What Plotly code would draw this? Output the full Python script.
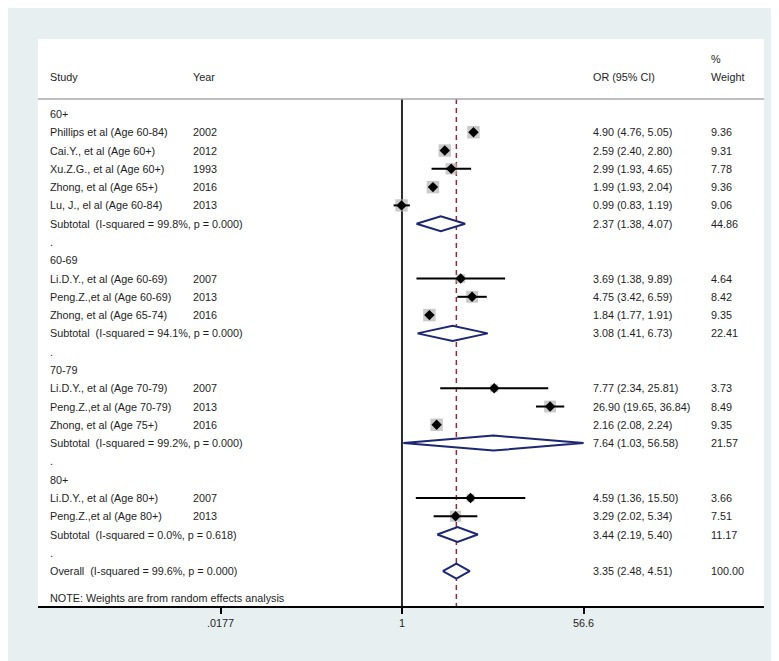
import plotly.graph_objects as go

# ---- data ----
groups = ["60+", "60-69", "70-79", "80+"]

studies = [
    ["Phillips et al (Age 60-84)", "Cai.Y., et al (Age 60+)", "Xu.Z.G., et al (Age 60+)",
     "Zhong, et al (Age 65+)", "Lu, J., el al (Age 60-84)"],
    ["Li.D.Y., et al (Age 60-69)", "Peng.Z.,et al (Age 60-69)", "Zhong, et al (Age 65-74)"],
    ["Li.D.Y., et al (Age 70-79)", "Peng.Z.,et al (Age 70-79)", "Zhong, et al (Age 75+)"],
    ["Li.D.Y., et al (Age 80+)", "Peng.Z.,et al (Age 80+)"],
]
years = [
    [2002, 2012, 1993, 2016, 2013],
    [2007, 2013, 2016],
    [2007, 2013, 2016],
    [2007, 2013],
]
or_est = [
    [4.90, 2.59, 2.99, 1.99, 0.99],
    [3.69, 4.75, 1.84],
    [7.77, 26.90, 2.16],
    [4.59, 3.29],
]
or_low = [
    [4.76, 2.40, 1.93, 1.93, 0.83],
    [1.38, 3.42, 1.77],
    [2.34, 19.65, 2.08],
    [1.36, 2.02],
]
or_high = [
    [5.05, 2.80, 4.65, 2.04, 1.19],
    [9.89, 6.59, 1.91],
    [25.81, 36.84, 2.24],
    [15.50, 5.34],
]
weights = [
    [9.36, 9.31, 7.78, 9.36, 9.06],
    [4.64, 8.42, 9.35],
    [3.73, 8.49, 9.35],
    [3.66, 7.51],
]

sub_labels = [
    "Subtotal  (I-squared = 99.8%, p = 0.000)",
    "Subtotal  (I-squared = 94.1%, p = 0.000)",
    "Subtotal  (I-squared = 99.2%, p = 0.000)",
    "Subtotal  (I-squared = 0.0%, p = 0.618)",
]
sub_est = [2.37, 3.08, 7.64, 3.44]
sub_low = [1.38, 1.41, 1.03, 2.19]
sub_high = [4.07, 6.73, 56.58, 5.40]
sub_weight = [44.86, 22.41, 21.57, 11.17]

overall_label = "Overall  (I-squared = 99.6%, p = 0.000)"
overall_est, overall_low, overall_high, overall_weight = 3.35, 2.48, 4.51, 100.00

tick_vals = [0.0177, 1, 56.6]
tick_text = [".0177", "1", "56.6"]

# ---- layout the rows ----
FONT = "Liberation Sans, Arial, sans-serif"
FS = 10.8
TXT = "#1e1e1e"
NAVY = "#1d2773"

text_rows = []   # (row, study, year, ci text, weight)
box_x, box_y, box_s = [], [], []
ci_x, ci_y = [], []
dia_x, dia_y = [], []

max_w = max(max(w) for w in weights)
r = 0
for g in range(len(groups)):
    text_rows.append((r, groups[g], "", "", ""))
    r += 1
    for i in range(len(studies[g])):
        e, lo, hi, w = or_est[g][i], or_low[g][i], or_high[g][i], weights[g][i]
        text_rows.append((r, studies[g][i], str(years[g][i]),
                          f"{e:.2f} ({lo:.2f}, {hi:.2f})", f"{w:.2f}"))
        box_x.append(e); box_y.append(r); box_s.append(12.5 * (w / max_w) ** 0.5)
        ci_x += [lo, hi, None]; ci_y += [r, r, None]
        r += 1
    e, lo, hi = sub_est[g], sub_low[g], sub_high[g]
    text_rows.append((r, sub_labels[g], "", f"{e:.2f} ({lo:.2f}, {hi:.2f})", f"{sub_weight[g]:.2f}"))
    dia_x += [lo, e, hi, e, lo, None]; dia_y += [r, r - 0.41, r, r + 0.41, r, None]
    r += 1
    text_rows.append((r, ".", "", "", ""))
    r += 1
text_rows.append((r, overall_label, "",
                  f"{overall_est:.2f} ({overall_low:.2f}, {overall_high:.2f})", f"{overall_weight:.2f}"))
dia_x += [overall_low, overall_est, overall_high, overall_est, overall_low]
dia_y += [r, r - 0.41, r, r + 0.41, r]
overall_row = r

Y_TOP, Y_BOT = -4.10, 26.91
HEADER_LINE = -0.82

fig = go.Figure()

# null line and overall dashed line
fig.add_trace(go.Scatter(x=[1, 1], y=[HEADER_LINE, Y_BOT], mode="lines",
                         line=dict(color="#2a2a2a", width=2), hoverinfo="skip"))
fig.add_trace(go.Scatter(x=[overall_est, overall_est], y=[HEADER_LINE, Y_BOT], mode="lines",
                         line=dict(color="#8a2e3e", width=1.5, dash="5px,4px"), hoverinfo="skip"))

# weight boxes
fig.add_trace(go.Scatter(x=box_x, y=box_y, mode="markers",
                         marker=dict(symbol="square", size=box_s, color="#b3b3b3", line=dict(width=0))))
# confidence intervals
fig.add_trace(go.Scatter(x=ci_x, y=ci_y, mode="lines", line=dict(color="black", width=2)))
# point estimates
fig.add_trace(go.Scatter(x=box_x, y=box_y, mode="markers",
                         marker=dict(symbol="diamond", size=8, color="black")))
# pooled diamonds
fig.add_trace(go.Scatter(x=dia_x, y=dia_y, mode="lines", fill="toself", fillcolor="white",
                         line=dict(color=NAVY, width=2)))

# header separator line
fig.add_shape(type="line", xref="paper", yref="y", x0=0, x1=1, y0=HEADER_LINE, y1=HEADER_LINE,
              line=dict(color="#a9a9b2", width=1.5))

PW = 726.0
def px(xpix):
    return (xpix - 30) / PW

col_study, col_year, col_ci, col_w = px(41), px(184), px(584), px(702)

def add_text(xp, row, s):
    if s == "":
        return
    fig.add_annotation(x=xp, y=row, xref="paper", yref="y", text=s, showarrow=False,
                       xanchor="left", yanchor="middle", xshift=-1,
                       font=dict(family=FONT, size=FS, color=TXT))

# headers
add_text(col_study, -2.02, "Study")
add_text(col_year, -2.02, "Year")
add_text(col_ci, -2.02, "OR (95% CI)")
add_text(col_w, -3.0, "%")
add_text(col_w, -2.02, "Weight")

for row, s, y, ci, w in text_rows:
    add_text(col_study, row, s)
    add_text(col_year, row, y)
    add_text(col_ci, row, ci)
    add_text(col_w, row, w)

add_text(col_study, overall_row + 1.47, "NOTE: Weights are from random effects analysis")

fig.update_layout(
    width=779, height=661,
    margin=dict(l=30, r=23, t=31, b=63),
    paper_bgcolor="#e8eff0",
    plot_bgcolor="white",
    showlegend=False,
    xaxis=dict(type="log", range=[-3.514, 3.495], tickvals=tick_vals, ticktext=tick_text,
               showgrid=False, zeroline=False, showline=True, linecolor="black", linewidth=1.5,
               ticks="outside", ticklen=6, tickwidth=1.5, tickcolor="black",
               tickfont=dict(family=FONT, size=FS, color=TXT)),
    yaxis=dict(range=[Y_BOT, Y_TOP], visible=False, showgrid=False, zeroline=False),
)

fig.write_html("out.html")
